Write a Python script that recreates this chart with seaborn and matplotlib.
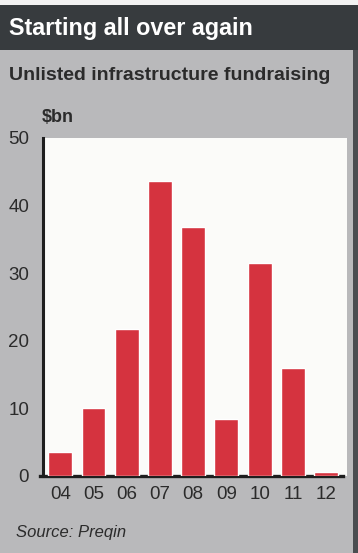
import matplotlib
matplotlib.use("Agg")
import matplotlib.pyplot as plt
from matplotlib.patches import Rectangle
import seaborn as sns
import pandas as pd

# Unlisted infrastructure fundraising, $bn
years = ["04", "05", "06", "07", "08", "09", "10", "11", "12"]
raised = [3.6, 10.0, 21.8, 43.7, 36.8, 8.5, 31.5, 16.0, 0.6]
y_ticks = [0, 10, 20, 30, 40, 50]

title = "Starting all over again"
subtitle = "Unlisted infrastructure fundraising"
unit = "$bn"
source = "Source: Preqin"

bar_red = "#d5333f"
panel_grey = "#b9b9bb"
header_dark = "#373b3e"
ink = "#2b2b2b"

sns.set_theme(style="white")
plt.rcParams["font.family"] = ["Liberation Sans", "DejaVu Sans"]

W, H = 358, 553
fig = plt.figure(figsize=(W / 100, H / 100), dpi=100)
fig.patch.set_facecolor(panel_grey)

# header band and right-hand frame edge
fig.add_artist(Rectangle((0, 1 - 50 / H), 1, 45 / H, transform=fig.transFigure,
                         facecolor=header_dark, edgecolor="none", zorder=0))
fig.add_artist(Rectangle((0, 1 - 5 / H), 1, 5 / H, transform=fig.transFigure,
                         facecolor="#f2f2f2", edgecolor="none", zorder=0))
fig.add_artist(Rectangle((1 - 5 / W, 0), 5 / W, 1 - 50 / H, transform=fig.transFigure,
                         facecolor="#4a4d50", edgecolor="none", zorder=0))

fig.text(9 / W, 1 - 28 / H, title, color="white", fontsize=16.8, fontweight="bold",
         va="center", ha="left")
fig.text(9 / W, 1 - 76 / H, subtitle, color=ink, fontsize=14, fontweight="bold",
         va="center", ha="left")
fig.text(42 / W, 1 - 117 / H, unit, color=ink, fontsize=13, fontweight="bold",
         va="center", ha="left")
fig.text(16 / W, 1 - 532 / H, source, color=ink, fontsize=12, fontstyle="italic",
         va="center", ha="left")

left, right, top, bottom = 43, 347, 138, 476
ax = fig.add_axes([left / W, 1 - bottom / H, (right - left) / W, (bottom - top) / H])
ax.set_facecolor("#fbfbf9")

df = pd.DataFrame({"year": years, "raised": raised})
sns.barplot(data=df, x="year", y="raised", color=bar_red, saturation=1,
            width=0.72, ax=ax, zorder=3)

ax.set_ylim(0, 50)
ax.set_xlim(-0.52, 8.63)
ax.set_yticks(y_ticks)
ax.set_yticklabels([str(v) for v in y_ticks])
ax.set_xlabel("")
ax.set_ylabel("")
ax.tick_params(axis="both", length=0, labelsize=13.5, colors=ink)
ax.tick_params(axis="y", pad=10)
ax.tick_params(axis="x", pad=7)

for side in ("top", "right"):
    ax.spines[side].set_visible(False)
ax.spines["left"].set_color("#1e1e1e")
ax.spines["left"].set_linewidth(2.2)
ax.spines["bottom"].set_color("#1e1e1e")
ax.spines["bottom"].set_linewidth(2.4)
ax.spines["bottom"].set_bounds(-0.6, 8.5)

fig.savefig("out.png", dpi=100, facecolor=fig.get_facecolor())
